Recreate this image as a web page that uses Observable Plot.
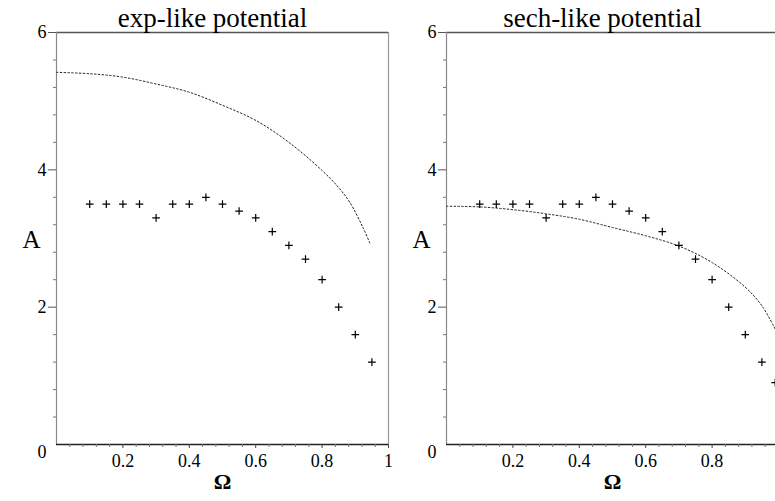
<!DOCTYPE html>
<html>
<head>
<meta charset="utf-8">
<script src="https://cdn.jsdelivr.net/npm/d3@7"></script>
<script src="https://cdn.jsdelivr.net/npm/@observablehq/plot@0.6"></script>
<style>
  html, body { margin: 0; padding: 0; background: white; overflow: hidden; }
  #wrap { position: relative; width: 775px; height: 501px; overflow: hidden; }
  #wrap > div { position: absolute; top: 0; }
  #wrap svg, #wrap svg text, #wrap svg g { font-family: 'Liberation Serif', 'Times New Roman', serif !important; }
</style>
</head>
<body>
<div id="wrap"><div id="left" style="left:0"></div><div id="right" style="left:390px"></div></div>
<script>
// Numerical points (crosses), shared by both panels
const omegaPts = [0.1, 0.15, 0.2, 0.25, 0.3, 0.35, 0.4, 0.45, 0.5, 0.55, 0.6, 0.65, 0.7, 0.75, 0.8, 0.85, 0.9, 0.95];
const ampPts   = [3.5, 3.5, 3.5, 3.5, 3.3, 3.5, 3.5, 3.6, 3.5, 3.4, 3.3, 3.1, 2.9, 2.7, 2.4, 2.0, 1.6, 1.2];
// Extra point only in the sech panel
const omegaExtraSech = [0.99];
const ampExtraSech   = [0.9];

// Dotted theoretical curves
const expCurveOmega = [0, 0.1, 0.2, 0.3, 0.4, 0.5, 0.6, 0.7, 0.8, 0.85, 0.883, 0.923, 0.945];
const expCurveAmp   = [5.42, 5.40, 5.35, 5.25, 5.13, 4.94, 4.72, 4.40, 3.99, 3.74, 3.53, 3.16, 2.92];
const sechCurveOmega = [0, 0.1, 0.2, 0.3, 0.4, 0.5, 0.6, 0.7, 0.8, 0.9, 0.95, 0.99];
const sechCurveAmp   = [3.47, 3.46, 3.42, 3.36, 3.28, 3.16, 3.04, 2.89, 2.65, 2.29, 2.02, 1.68];

// Tick values
const yMajor = [2, 4, 6];
const yMinor = [0.4, 0.8, 1.2, 1.6, 2.4, 2.8, 3.2, 3.6, 4.4, 4.8, 5.2, 5.6];
const xMajorLeft = [0.2, 0.4, 0.6, 0.8, 1];
const xMajorRight = [0.2, 0.4, 0.6, 0.8];
const xMinor = [0.04, 0.08, 0.12, 0.16, 0.24, 0.28, 0.32, 0.36, 0.44, 0.48, 0.52, 0.56,
                0.64, 0.68, 0.72, 0.76, 0.84, 0.88, 0.92, 0.96];

const titles = ["exp-like potential", "sech-like potential"];

const serif = "'Liberation Serif', 'Times New Roman', serif";
const toRows = (xs, ys) => xs.map((x, i) => ({x, y: ys[i]}));
const fmt = d => String(d);

function panel(title, pts, curve, xMajor) {
  return Plot.plot({
    width: 395,
    height: 501,
    marginLeft: 56,
    marginRight: 7,
    marginTop: 32,
    marginBottom: 57,
    x: {domain: [0, 1]},
    y: {domain: [0, 6]},
    style: {fontFamily: serif, fontSize: "18px", background: "transparent", maxWidth: "none", overflow: "visible", color: "#000"},
    marks: [
      Plot.ruleY([6], {stroke: "#555", strokeWidth: 1.6}),
      Plot.ruleX([1], {stroke: "#999", strokeWidth: 1.2}),
      Plot.ruleX([0], {stroke: "#888", strokeWidth: 1.2}),
      Plot.ruleY([0], {stroke: "#222", strokeWidth: 1.3}),
      Plot.axisY(yMajor, {tickSize: 8, tickPadding: 2, stroke: "#555", fill: "#000", fontSize: 18, fontFamily: serif, tickFormat: fmt, label: null}),
      Plot.axisY([0], {tickSize: 0, tickPadding: 10, dy: 8, fill: "#000", fontSize: 18, fontFamily: serif, tickFormat: fmt, label: null}),
      Plot.axisY(yMinor, {tickSize: 3, text: null, stroke: "#777", label: null}),
      Plot.axisX(xMajor, {tickSize: 4, tickPadding: 6, stroke: "#444", fill: "#000", fontSize: 18, fontFamily: serif, tickFormat: fmt, label: null}),
      Plot.axisX(xMinor, {tickSize: 3, text: null, stroke: "#777", label: null}),
      Plot.line(curve, {x: "x", y: "y", curve: "catmull-rom", stroke: "#222", strokeWidth: 1, strokeDasharray: "1.6,2.2"}),
      Plot.dot(pts, {x: "x", y: "y", symbol: "plus", r: 2.6, stroke: "#000", strokeWidth: 1.2}),
      Plot.text([title], {frameAnchor: "top", lineAnchor: "bottom", dx: -10, dy: -6, fontSize: 27, fontFamily: serif, fill: "#000"}),
      Plot.text(["A"], {frameAnchor: "left", dx: -34, dy: 1, fontSize: 25, fontFamily: serif, fill: "#000"}),
      Plot.text(["Ω"], {frameAnchor: "bottom", dy: 44, fontSize: 22, fontFamily: serif, fill: "#000", fontWeight: "bold"})
    ]
  });
}

const leftPts = toRows(omegaPts, ampPts);
const rightPts = toRows(omegaPts.concat(omegaExtraSech), ampPts.concat(ampExtraSech));

document.getElementById("left").appendChild(panel(titles[0], leftPts, toRows(expCurveOmega, expCurveAmp), xMajorLeft));
document.getElementById("right").appendChild(panel(titles[1], rightPts, toRows(sechCurveOmega, sechCurveAmp), xMajorRight));
</script>
</body>
</html>
